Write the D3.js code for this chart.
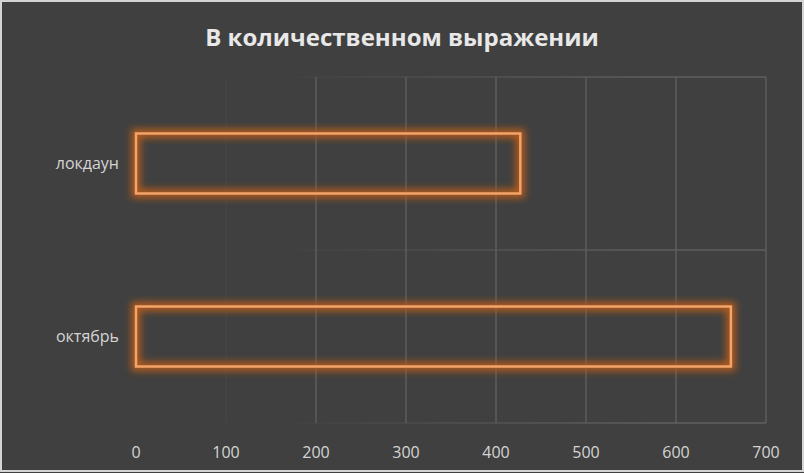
<!DOCTYPE html>
<html>
<head>
<meta charset="utf-8">
<script src="https://cdn.jsdelivr.net/npm/d3@7"></script>
<style>
  html, body { margin: 0; padding: 0; background: #404040; }
  svg { display: block; }
</style>
</head>
<body>
<svg id="chart" width="804" height="473"></svg>
<script>
// chart data
var categories = ["локдаун", "октябрь"];
var values = [427, 661];
var xTicks = [0, 100, 200, 300, 400, 500, 600, 700];
var title = "В количественном выражении";

var svg = d3.select("#chart"),
    W = 804, H = 473,
    margin = {top: 77, right: 38, bottom: 50, left: 136},
    width = W - margin.left - margin.right,
    height = H - margin.top - margin.bottom;

// background + light frame
svg.append("rect").attr("width", W).attr("height", H).attr("fill", "#404040");
svg.append("rect").attr("x", 1).attr("y", 1).attr("width", W - 2).attr("height", H - 3)
    .attr("fill", "none").attr("stroke", "#d4d4d4").attr("stroke-width", 2);

var defs = svg.append("defs");
var glow = defs.append("filter").attr("id", "glow")
    .attr("x", "-10%").attr("y", "-40%").attr("width", "120%").attr("height", "180%");
glow.append("feGaussianBlur").attr("in", "SourceGraphic").attr("stdDeviation", 3.5);

var fade = defs.append("linearGradient").attr("id", "fade")
    .attr("gradientUnits", "userSpaceOnUse")
    .attr("x1", margin.left).attr("x2", margin.left + width).attr("y1", 0).attr("y2", 0);
fade.append("stop").attr("offset", "0%").attr("stop-color", "#5a5a5a").attr("stop-opacity", 0);
fade.append("stop").attr("offset", "30%").attr("stop-color", "#5a5a5a").attr("stop-opacity", 0.6);
fade.append("stop").attr("offset", "60%").attr("stop-color", "#5e5e5e").attr("stop-opacity", 1);

var g = svg.append("g").attr("transform", "translate(" + margin.left + "," + margin.top + ")");

var x = d3.scaleLinear().domain([0, 700]).range([0, width]);
var y = d3.scaleBand().domain(categories).range([0, height]).paddingInner(0).paddingOuter(0);

// vertical gridlines
g.selectAll(".vgrid")
  .data(xTicks.slice(1))
  .enter().append("line")
    .attr("x1", function(d) { return x(d); })
    .attr("x2", function(d) { return x(d); })
    .attr("y1", 0).attr("y2", height)
    .attr("stroke", function(d) { return d <= 100 ? "#444444" : "#5c5c5c"; })
    .attr("stroke-width", 1.5);

// faint category boundaries
g.selectAll(".hgrid")
  .data([0, y.bandwidth(), height])
  .enter().append("rect")
    .attr("x", 0).attr("y", function(d) { return d - 0.75; })
    .attr("width", width).attr("height", 1.5)
    .attr("fill", "url(#fade)");

// bars
var barH = 60;
var bars = g.selectAll(".bar")
  .data(values)
  .enter().append("g")
    .attr("class", "bar");

bars.append("rect")
    .attr("x", 0)
    .attr("y", function(d, i) { return y(categories[i]) + y.bandwidth() / 2 - barH / 2; })
    .attr("width", function(d) { return x(d); })
    .attr("height", barH)
    .attr("fill", "none")
    .attr("stroke", "#b35a1c")
    .attr("stroke-width", 9)
    .attr("filter", "url(#glow)");

bars.append("rect")
    .attr("x", 0)
    .attr("y", function(d, i) { return y(categories[i]) + y.bandwidth() / 2 - barH / 2; })
    .attr("width", function(d) { return x(d); })
    .attr("height", barH)
    .attr("fill", "none")
    .attr("stroke", "#f2a46a")
    .attr("stroke-width", 2.5);

// category labels
g.selectAll(".cat")
  .data(categories)
  .enter().append("text")
    .attr("x", -17)
    .attr("y", function(d) { return y(d) + y.bandwidth() / 2; })
    .attr("dy", "0.35em")
    .attr("text-anchor", "end")
    .attr("fill", "#d4d4d4")
    .style("font-family", "'Open Sans', 'Noto Sans', sans-serif")
    .style("font-size", "16px")
    .text(function(d) { return d; });

// x tick labels
g.selectAll(".tick")
  .data(xTicks)
  .enter().append("text")
    .attr("x", function(d) { return x(d); })
    .attr("y", height + 35)
    .attr("text-anchor", "middle")
    .attr("fill", "#d4d4d4")
    .style("font-family", "'Open Sans', 'Noto Sans', sans-serif")
    .style("font-size", "16px")
    .text(function(d) { return d; });

// title
svg.append("text")
    .attr("x", 402)
    .attr("y", 46)
    .attr("text-anchor", "middle")
    .attr("fill", "#e8e8e8")
    .style("font-family", "'Open Sans', 'Noto Sans', sans-serif")
    .style("font-weight", "bold")
    .style("font-size", "24px")
    .text(title);
</script>
</body>
</html>
